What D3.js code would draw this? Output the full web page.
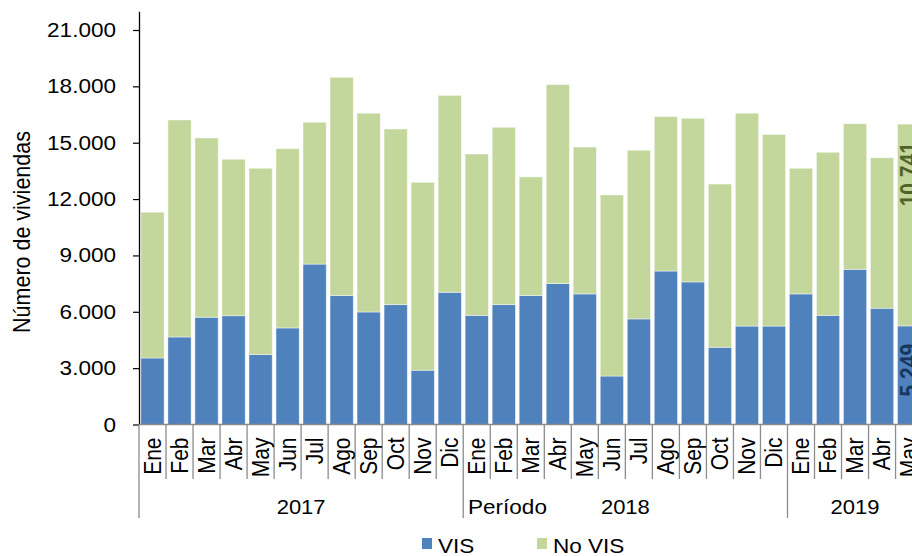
<!DOCTYPE html>
<html>
<head>
<meta charset="utf-8">
<script src="https://cdn.jsdelivr.net/npm/d3@7/dist/d3.min.js"></script>
<style>
  html, body { margin: 0; padding: 0; background: #fff; }
  svg { display: block; font-family: "Liberation Sans", Arial, sans-serif; }
</style>
</head>
<body>
<script>
// Monthly housing starts, VIS vs No VIS
const years = ["2017", "2018", "2019"];
const months = [
  "Ene","Feb","Mar","Abr","May","Jun","Jul","Ago","Sep","Oct","Nov","Dic",
  "Ene","Feb","Mar","Abr","May","Jun","Jul","Ago","Sep","Oct","Nov","Dic",
  "Ene","Feb","Mar","Abr","May"
];
const monthYear = [
  "2017","2017","2017","2017","2017","2017","2017","2017","2017","2017","2017","2017",
  "2018","2018","2018","2018","2018","2018","2018","2018","2018","2018","2018","2018",
  "2019","2019","2019","2019","2019"
];
const vis = [
  3540, 4660, 5710, 5790, 3720, 5140, 8540, 6860, 5990, 6380, 2890, 7040,
  5810, 6380, 6860, 7500, 6950, 2580, 5620, 8170, 7590, 4110, 5240, 5240,
  6950, 5810, 8260, 6190, 5249
];
const noVis = [
  7760, 11550, 9540, 8330, 9920, 9540, 7550, 11620, 10580, 9350, 10000, 10480,
  8590, 9440, 6320, 10590, 7820, 9640, 8980, 8220, 8710, 8690, 11330, 10190,
  6690, 8680, 7750, 8010, 10741
];
const yTicks = [0, 3000, 6000, 9000, 12000, 15000, 18000, 21000];
const yMax = 22000;
const seriesNames = ["VIS", "No VIS"];
const labelledIndex = 28; // last month carries value labels

const colors = { "VIS": "#4F81BD", "No VIS": "#C3D69B" };
const labelColors = { "VIS": "#17375E", "No VIS": "#4F6228" };
const SX = 1.1; // horizontal glyph stretch

const W = 912, H = 556;
const left = 139, base = 424.5, step = 27.02;

const keys = months.map((m, i) => i);
const rows = keys.map(i => ({ i, "VIS": vis[i], "No VIS": noVis[i] }));

const x = d3.scaleBand()
  .domain(keys)
  .range([left, left + step * keys.length])
  .paddingInner(0.14)
  .paddingOuter(0.07);

const y = d3.scaleLinear().domain([0, yMax]).range([base, base - yMax * (394.5 / 21000)]);

const loc = d3.formatLocale({ decimal: ",", thousands: ".", grouping: [3], currency: ["", ""] });
const fmt = loc.format(",d");

const svg = d3.select("body").append("svg").attr("width", W).attr("height", H);

// stacked bars
const stack = d3.stack().keys(seriesNames)(rows);
const layers = svg.append("g").selectAll("g")
  .data(stack).join("g")
  .attr("fill", d => colors[d.key]);

layers.selectAll("rect")
  .data(d => d)
  .join("rect")
  .attr("x", d => x(d.data.i))
  .attr("width", x.bandwidth())
  .attr("y", d => y(d[1]))
  .attr("height", d => y(d[0]) - y(d[1]))
  .attr("stroke", "#fff")
  .attr("stroke-opacity", 0.55)
  .attr("stroke-width", 0.8);

// value labels on the latest month
stack.forEach(layer => {
  const d = layer[labelledIndex];
  const cx = x(d.data.i) + x.bandwidth() / 2;
  svg.append("text")
    .attr("transform", `translate(${cx},${y(d[1]) + 18}) scale(${SX},1) rotate(-90)`)
    .attr("text-anchor", "end")
    .attr("dy", "0.35em")
    .attr("font-size", 21)
    .attr("font-weight", "bold")
    .attr("fill", labelColors[layer.key])
    .text(fmt(d.data[layer.key]));
});

// y axis
const yAxis = svg.append("g")
  .attr("transform", `translate(${left},0)`)
  .call(d3.axisLeft(y).tickValues(yTicks).tickFormat(fmt).tickSize(6).tickSizeOuter(0));
yAxis.select(".domain").attr("stroke", "#000").attr("stroke-width", 1.3);
yAxis.selectAll(".tick line").attr("stroke", "#000").attr("stroke-width", 1.2);
yAxis.selectAll(".tick text")
  .attr("x", -23 / SX)
  .attr("transform", `scale(${SX},1)`)
  .attr("font-size", 20.5)
  .attr("font-family", "Liberation Sans, Arial, sans-serif")
  .attr("fill", "#000");

// y title
svg.append("text")
  .attr("transform", `translate(22,232) scale(${SX},1) rotate(-90)`)
  .attr("text-anchor", "middle")
  .attr("dy", "0.35em")
  .attr("font-size", 21.5)
  .attr("fill", "#000")
  .text("Número  de viviendas");

// x axis: baseline and category separators
const xg = svg.append("g").attr("stroke", "#8C8C8C").attr("stroke-width", 1.3);
xg.append("line").attr("x1", left).attr("x2", W).attr("y1", base).attr("y2", base);

const yearStart = years.map(yr => monthYear.indexOf(yr));
keys.concat([keys.length]).forEach(i => {
  const bx = i < keys.length ? x(i) - x.step() * x.paddingInner() / 2 : x.range()[1];
  const isYear = yearStart.includes(i);
  xg.append("line")
    .attr("x1", bx).attr("x2", bx)
    .attr("y1", base).attr("y2", isYear ? 518 : 479);
});

// month labels
svg.append("g").selectAll("text")
  .data(keys).join("text")
  .attr("transform", i => `translate(${x(i) + x.bandwidth() / 2},437.5) scale(${SX},1) rotate(-90)`)
  .attr("text-anchor", "end")
  .attr("dy", "0.35em")
  .attr("font-size", 21)
  .attr("fill", "#000")
  .text(i => months[i]);

// year labels centred under their months
years.forEach(yr => {
  const idx = keys.filter(i => monthYear[i] === yr);
  const x0 = x(idx[0]) - x.step() * x.paddingInner() / 2;
  const x1 = x(idx[idx.length - 1]) + x.bandwidth() + x.step() * x.paddingInner() / 2;
  svg.append("text")
    .attr("transform", `translate(${(x0 + x1) / 2},514) scale(${SX},1)`)
    .attr("text-anchor", "middle")
    .attr("font-size", 20)
    .attr("fill", "#000")
    .text(yr);
});

// x title
svg.append("text")
  .attr("transform", `translate(468,514) scale(${SX},1)`)
  .attr("font-size", 20.5)
  .attr("fill", "#000")
  .text("Período");

// legend
const legendPos = [422, 537];
seriesNames.forEach((name, k) => {
  const lx = legendPos[k];
  svg.append("rect")
    .attr("x", lx).attr("y", 538).attr("width", 10).attr("height", 11)
    .attr("fill", colors[name]);
  svg.append("text")
    .attr("transform", `translate(${lx + 16},552.5) scale(${SX},1)`)
    .attr("font-size", 20.5)
    .attr("fill", "#000")
    .text(name);
});
</script>
</body>
</html>
